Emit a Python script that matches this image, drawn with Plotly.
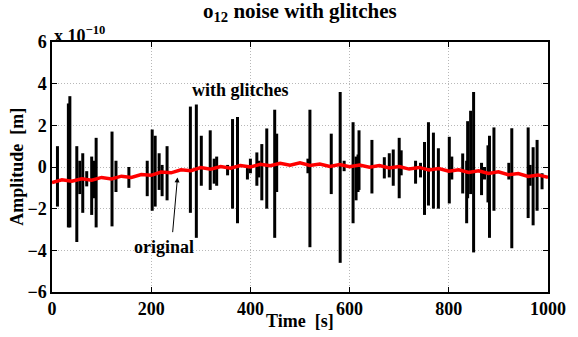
import plotly.graph_objects as go

# ---------------- data (amplitude in units of 1e-10 m) ----------------
red_t = list(range(0, 1001, 20))
red_v = [-0.75, -0.61, -0.68, -0.57, -0.63, -0.50, -0.57, -0.44, -0.50, -0.36,
         -0.40, -0.24, -0.28, -0.13, -0.18, -0.03, -0.11, 0.02, -0.06, 0.07,
         0.00, 0.13, 0.06, 0.18, 0.09, 0.20, 0.07, 0.14, 0.03, 0.12,
         0.01, 0.10, -0.01, 0.07, -0.05, 0.02, -0.10, -0.02, -0.14, -0.07,
         -0.20, -0.13, -0.26, -0.18, -0.31, -0.23, -0.37, -0.31, -0.45, -0.38,
         -0.50]

glitch_t = [11, 33, 36, 50, 56, 62, 70, 80, 84, 89, 121, 129, 155,
            192, 202, 208, 216, 222, 232, 279, 291, 301, 319, 327,
            332, 354, 364, 374, 394, 400, 413, 417, 423, 433, 449, 453,
            516, 520, 563, 581, 589, 607, 613, 617, 619, 645,
            670, 680, 688, 700, 704, 733, 743, 751, 759, 769, 779, 801, 806,
            828, 836, 838, 844, 850, 866, 872, 879, 882, 891, 921, 927,
            960, 964, 970, 978, 988]
glitch_hi = [1.0, 3.05, 3.4, 1.0, 0.3, 0.66, -0.2, 0.5, 0.3, 1.4, 1.7, 0.3, 0.0,
             0.3, 1.8, 1.5, 0.66, 0.1, 1.0, 2.9, 3.0, 1.5, 1.76, 0.4,
             0.5, 0.1, 2.3, 2.4, -0.05, 0.4, 0.7, 0.3, 1.1, 1.85, 2.75, 1.6,
             0.4, 2.75, 1.6, 3.6, 0.3, 2.15, 0.5, 0.6, 1.76, 1.3,
             0.47, 0.66, 0.84, 1.4, 0.8, 0.3, 0.2, 1.2, 2.15, 1.65, 0.9, 1.45, 0.5,
             0.65, 0.3, 2.2, 2.7, 3.6, 0.2, 0.0, 1.04, 1.5, 1.9, 0.2, 1.86,
             1.9, 0.1, 0.95, 1.3, -0.3]
glitch_lo = [-1.9, -2.9, -2.9, -3.6, -1.3, -2.2, -0.93, -2.3, -1.5, -2.9, -2.85, -1.2, -1.0,
             -1.4, -2.1, -1.9, -1.1, -1.4, -1.6, -2.2, -3.4, -0.9, -1.1, -0.8,
             -0.9, -0.4, -2.0, -2.7, -0.6, -0.3, -0.9, -0.5, -1.6, -2.0, -3.4, -1.2,
             -0.3, -3.85, -1.3, -4.6, -0.2, -2.7, -1.6, -1.2, -1.1, -1.27,
             -0.55, -0.5, -0.9, -1.5, -0.4, -0.8, -0.5, -2.3, -1.85, -2.0, -2.0, -1.75, -0.6,
             -1.27, -2.7, -1.5, -1.3, -4.1, -1.35, -0.6, -1.7, -3.4, -2.1, -0.6, -3.9,
             -2.45, -0.9, -2.8, -2.1, -1.07]

x_ticks = [0, 200, 400, 600, 800, 1000]
x_ticktext = ["0", "200", "400", "600", "800", "1000"]
y_ticks = [-6, -4, -2, 0, 2, 4, 6]
y_ticktext = ["\u22126", "\u22124", "\u22122", "0", "2", "4", "6"]

# ---------------- figure ----------------
FONT = "Liberation Serif"
W, H = 578, 337
L, R, T, B = 52, 20, 42, 45

gx, gy = [], []
for t, hi, lo in zip(glitch_t, glitch_hi, glitch_lo):
    gx += [t, t, None]
    gy += [hi, lo, None]

fig = go.Figure()
fig.add_trace(go.Scatter(x=gx, y=gy, mode="lines",
                         line=dict(color="black", width=3), hoverinfo="skip"))
fig.add_trace(go.Scatter(x=red_t, y=red_v, mode="lines",
                         line=dict(color="#ff0000", width=3.5), hoverinfo="skip"))

axis_common = dict(showline=True, linecolor="black", linewidth=1.5, mirror="ticks",
                   ticks="inside", ticklen=5, tickcolor="black", tickwidth=1,
                   showgrid=True, gridcolor="#b8b8b8", griddash="1px,2px", gridwidth=1,
                   zeroline=False,
                   tickfont=dict(family=FONT, size=18, color="black"))

fig.update_layout(
    width=W, height=H, margin=dict(l=L, r=R, t=T, b=B),
    paper_bgcolor="white", plot_bgcolor="white", showlegend=False,
    font=dict(family=FONT, color="black"),
    xaxis=dict(range=[0, 1000], tickvals=x_ticks,
               ticktext=["<b>%s</b>" % s for s in x_ticktext], **axis_common),
    yaxis=dict(range=[-6, 6], tickvals=y_ticks,
               ticktext=["<b>%s</b>" % s for s in y_ticktext], **axis_common),
)

def py(ypx):
    return (H - B - ypx) / (H - T - B)

def px(xpx):
    return (xpx - L) / (W - L - R)

ann_font = dict(family=FONT, size=18, color="black")
fig.add_annotation(text="<b>o<sub>12</sub> noise with glitches</b>", xref="paper", yref="paper",
                   x=0.5, y=py(-3), xanchor="center", yanchor="top", showarrow=False,
                   font=dict(family=FONT, size=21, color="black"))
fig.add_annotation(text="<b>x 10<sup>\u221210</sup></b>", xref="paper", yref="paper",
                   x=0, y=py(48), xanchor="left", yanchor="bottom", showarrow=False,
                   font=ann_font)
fig.add_annotation(text="<b>Time\u00a0\u00a0[s]</b>", xref="paper", yref="paper",
                   x=0.5, y=py(321), xanchor="center", yanchor="middle", showarrow=False,
                   font=ann_font)
fig.add_annotation(text="<b>Amplitude\u00a0\u00a0[m]</b>", xref="paper", yref="paper",
                   x=px(16), y=0.5, xanchor="center", yanchor="middle", textangle=-90,
                   showarrow=False, font=ann_font)
fig.add_annotation(text="<b>with glitches</b>", xref="paper", yref="paper",
                   x=px(244), y=py(90), xanchor="center", yanchor="middle",
                   showarrow=False, font=ann_font)
fig.add_annotation(text="<b>original</b>", xref="paper", yref="paper",
                   x=px(166), y=py(247), xanchor="center", yanchor="middle",
                   showarrow=False, font=ann_font)
fig.add_annotation(x=253, y=-0.5, ax=243, ay=-3.2, xref="x", yref="y", axref="x", ayref="y",
                   text="", showarrow=True, arrowhead=2, arrowsize=1, arrowwidth=1,
                   arrowcolor="black")

fig.write_html("out.html")
